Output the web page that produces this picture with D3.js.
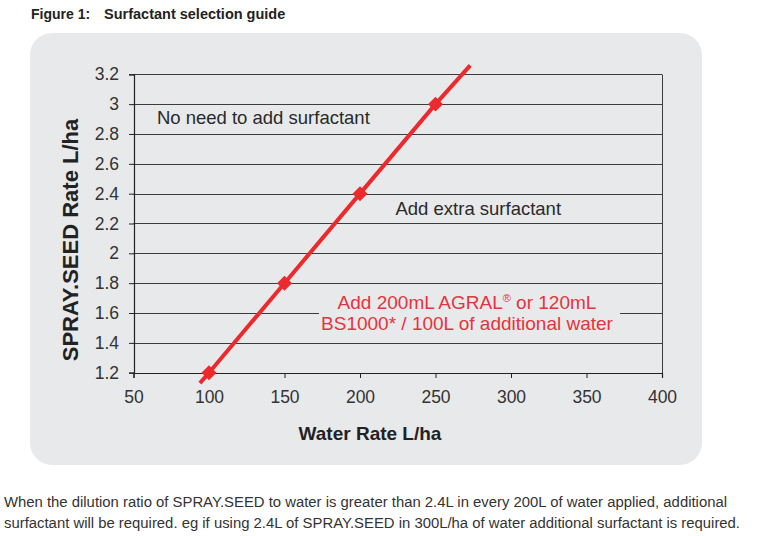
<!DOCTYPE html>
<html>
<head>
  <meta charset="utf-8">
  <script src="https://d3js.org/d3.v7.min.js"></script>
  <style>
    body { margin: 0; background: #fff; }
    text { font-family: "Liberation Sans", Arial, Helvetica, sans-serif; }
  </style>
</head>
<body>
  <svg width="768" height="536"></svg>

  <script>
    // chart data
    const waterRate = [100, 150, 200, 250];
    const seedRate = [1.2, 1.8, 2.4, 3.0];
    // the red line runs a little past the first and last point
    const lineWater = [94, 273];
    const lineSeed = [1.13, 3.26];

    const xTicks = [50, 100, 150, 200, 250, 300, 350, 400];
    const yTicks = [1.2, 1.4, 1.6, 1.8, 2.0, 2.2, 2.4, 2.6, 2.8, 3.0, 3.2];
    const yTickLabels = ["1.2", "1.4", "1.6", "1.8", "2", "2.2", "2.4", "2.6", "2.8", "3", "3.2"];

    const notes = [
      { text: "No need to add surfactant", water: 65.5, seed: 2.87 },
      { text: "Add extra surfactant", water: 223.5, seed: 2.255 }
    ];
    const footnote = [
      "When the dilution ratio of SPRAY.SEED to water is greater than 2.4L in every 200L of water applied, additional",
      "surfactant will be required. eg if using 2.4L of SPRAY.SEED in 300L/ha of water additional surfactant is required."
    ];

    const svg = d3.select("svg");
    const red = "#ec2a2d";
    const grid = "#3c3c3c";

    // title
    svg.append("text").attr("x", 31).attr("y", 19)
      .attr("font-size", 14).attr("font-weight", "bold").attr("fill", "#222")
      .text("Figure 1:");
    svg.append("text").attr("x", 104).attr("y", 19)
      .attr("font-size", 14.5).attr("font-weight", "bold").attr("fill", "#222")
      .text("Surfactant selection guide");

    // grey rounded panel
    svg.append("rect")
      .attr("x", 30).attr("y", 33).attr("width", 672).attr("height", 432)
      .attr("rx", 22).attr("fill", "#e8e9eb");

    const x = d3.scaleLinear().domain([50, 400]).range([133.5, 662]);
    const y = d3.scaleLinear().domain([1.2, 3.2]).range([372.7, 74.3]);

    // horizontal grid lines
    svg.append("g").selectAll("line")
      .data(yTicks)
      .enter().append("line")
      .attr("x1", x(50)).attr("x2", x(400))
      .attr("y1", d => Math.round(y(d)) + 0.5).attr("y2", d => Math.round(y(d)) + 0.5)
      .attr("stroke", grid).attr("stroke-width", 1);

    // right border
    svg.append("line")
      .attr("x1", Math.round(x(400)) + 0.5).attr("x2", Math.round(x(400)) + 0.5)
      .attr("y1", Math.round(y(3.2)) + 0.5).attr("y2", Math.round(y(1.2)) + 0.5)
      .attr("stroke", grid);

    // axes
    const xAxis = d3.axisBottom(x).tickValues(xTicks).tickSize(5).tickPadding(13)
      .tickFormat(d3.format("d"));
    const gx = svg.append("g")
      .attr("transform", "translate(0," + Math.round(y(1.2)) + ")")
      .call(xAxis);

    const yAxis = d3.axisLeft(y).tickValues(yTicks).tickSize(5).tickPadding(10)
      .tickFormat((d, i) => yTickLabels[i]);
    const gy = svg.append("g")
      .attr("transform", "translate(" + Math.round(x(50)) + ",0)")
      .call(yAxis);

    [gx, gy].forEach(g => {
      g.select(".domain").attr("stroke", "#222").attr("stroke-width", 1.2);
      g.selectAll(".tick line").attr("stroke", "#222");
      g.selectAll(".tick text")
        .attr("font-size", 17.5).attr("fill", "#333")
        .style("font-family", '"Liberation Sans", Arial, sans-serif');
    });

    // axis titles
    svg.append("text")
      .attr("transform", "translate(78,240) rotate(-90)")
      .attr("text-anchor", "middle")
      .attr("font-size", 22).attr("font-weight", "bold").attr("fill", "#222")
      .text("SPRAY.SEED Rate L/ha");
    svg.append("text")
      .attr("x", 370).attr("y", 440)
      .attr("text-anchor", "middle")
      .attr("font-size", 19).attr("font-weight", "bold").attr("fill", "#222")
      .text("Water Rate L/ha");

    // black annotations
    svg.selectAll(".note")
      .data(notes)
      .enter().append("text")
      .attr("class", "note")
      .attr("x", d => x(d.water)).attr("y", d => y(d.seed))
      .attr("font-size", 18.5).attr("fill", "#2a2a2a")
      .text(d => d.text);

    // red annotation with a panel-coloured box that hides the grid line
    svg.append("rect")
      .attr("x", 319).attr("y", 292).attr("width", 301).attr("height", 42)
      .attr("fill", "#e8e9eb");
    const red1 = svg.append("text")
      .attr("x", 467).attr("y", 309)
      .attr("text-anchor", "middle")
      .attr("font-size", 19).attr("fill", "#e6333d");
    red1.append("tspan").text("Add 200mL AGRAL");
    red1.append("tspan").attr("font-size", 11).attr("dy", -7).text("\u00AE");
    red1.append("tspan").attr("dy", 7).text(" or 120mL");
    svg.append("text")
      .attr("x", 467).attr("y", 329.5)
      .attr("text-anchor", "middle")
      .attr("font-size", 19).attr("fill", "#e6333d")
      .text("BS1000* / 100L of additional water");

    // red line with diamond markers
    const lineData = [[lineWater[0], lineSeed[0]]]
      .concat(waterRate.map((w, i) => [w, seedRate[i]]))
      .concat([[lineWater[1], lineSeed[1]]]);
    svg.append("path")
      .datum(lineData)
      .attr("d", d3.line().x(d => x(d[0])).y(d => y(d[1])))
      .attr("fill", "none")
      .attr("stroke", red).attr("stroke-width", 4);

    svg.append("g").selectAll("path")
      .data(waterRate)
      .enter().append("path")
      .attr("d", d3.symbol().type(d3.symbolSquare).size(112))
      .attr("transform", (d, i) => "translate(" + x(d) + "," + y(seedRate[i]) + ") rotate(45)")
      .attr("fill", red);

    // footnote
    svg.selectAll(".foot")
      .data(footnote)
      .enter().append("text")
      .attr("class", "foot")
      .attr("x", 4).attr("y", (d, i) => 507 + i * 21)
      .attr("font-size", 14).attr("fill", "#333")
      .style("font-family", '"Liberation Sans Narrow", "Liberation Sans", Arial, sans-serif')
      .attr("textLength", (d, i) => i === 0 ? 723 : 736)
      .attr("lengthAdjust", "spacingAndGlyphs")
      .text(d => d);
  </script>
</body>
</html>
